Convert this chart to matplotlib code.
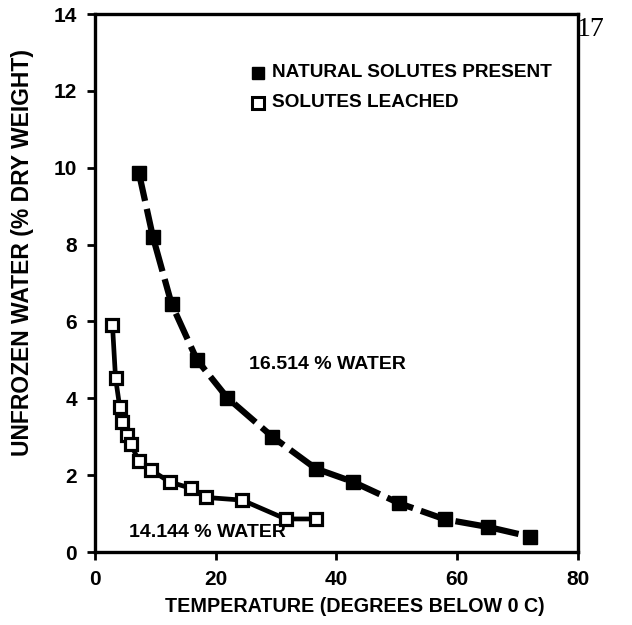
import matplotlib
matplotlib.use("Agg")
import matplotlib.pyplot as plt

# Data (temperature in degrees below 0 C, unfrozen water % dry weight)
natural_x = [7.3, 9.6, 12.7, 16.9, 21.9, 29.4, 36.6, 42.7, 50.4, 58.0, 65.2, 72.1]
natural_y = [9.85, 8.2, 6.45, 5.0, 4.02, 3.0, 2.17, 1.83, 1.27, 0.85, 0.65, 0.4]

leached_x = [2.9, 3.4, 4.1, 4.5, 5.3, 5.9, 7.3, 9.3, 12.4, 15.9, 18.4, 24.4, 31.6, 36.7]
leached_y = [5.9, 4.54, 3.77, 3.38, 3.04, 2.82, 2.36, 2.13, 1.82, 1.66, 1.42, 1.35, 0.86, 0.86]

x_ticks = [0, 20, 40, 60, 80]
y_ticks = [0, 2, 4, 6, 8, 10, 12, 14]

legend_labels = ["NATURAL SOLUTES PRESENT", "SOLUTES LEACHED"]
annot_natural = "16.514 % WATER"
annot_leached = "14.144 % WATER"

FONT = ["Liberation Sans", "DejaVu Sans"]

fig = plt.figure(figsize=(6.32, 6.25), dpi=100)
ax = fig.add_axes([0.1503, 0.1168, 0.914 - 0.1503, 0.9776 - 0.1168])

ax.plot(natural_x, natural_y, color="black", lw=4.5, dashes=(4.5, 1.3),
        marker="s", ms=10, mfc="black", mec="black", zorder=3)
ax.plot(leached_x, leached_y, color="black", lw=3.4, solid_capstyle="round",
        marker="s", ms=8.5, mfc="white", mec="black", mew=2.3, zorder=3)

ax.set_xlim(0, 80)
ax.set_ylim(0, 14)
ax.set_xticks(x_ticks)
ax.set_yticks(y_ticks)
ax.set_xticklabels([str(v) for v in x_ticks], fontfamily=FONT, fontweight="bold", fontsize=15)
ax.set_yticklabels([str(v) for v in y_ticks], fontfamily=FONT, fontweight="bold", fontsize=15)
ax.tick_params(direction="out", length=6, width=2, pad=7)

for s in ax.spines.values():
    s.set_linewidth(2.4)

ax.set_xlabel("TEMPERATURE (DEGREES BELOW 0 C)", fontfamily=FONT, fontweight="bold",
              fontsize=14.2)
ax.xaxis.set_label_coords(0.539, -0.102)
ax.set_ylabel("UNFROZEN WATER (% DRY WEIGHT)", fontfamily=FONT, fontweight="bold",
              fontsize=16.5)
ax.yaxis.set_label_coords(-0.151, 0.556)
ax.yaxis.label.set_va("center")
ax.xaxis.label.set_va("center")

# Legend drawn manually
ax.plot([27.0], [12.47], marker="s", ms=9, mfc="black", mec="black", ls="none")
ax.plot([27.0], [11.69], marker="s", ms=8, mfc="white", mec="black", mew=2.2, ls="none")
ax.text(29.3, 12.47, legend_labels[0], fontfamily=FONT, fontweight="bold", fontsize=13.7,
        va="center", ha="left")
ax.text(29.3, 11.69, legend_labels[1], fontfamily=FONT, fontweight="bold", fontsize=13.7,
        va="center", ha="left")

ax.text(38.5, 4.87, annot_natural, fontfamily=FONT, fontweight="bold", fontsize=14,
        va="center", ha="center")
ax.text(18.7, 0.52, annot_leached, fontfamily=FONT, fontweight="bold", fontsize=14,
        va="center", ha="center")

fig.text(0.935, 0.953, "17", fontfamily=["Liberation Serif", "DejaVu Serif"], fontsize=20,
         va="center", ha="center")

fig.savefig("out.png", dpi=100)
